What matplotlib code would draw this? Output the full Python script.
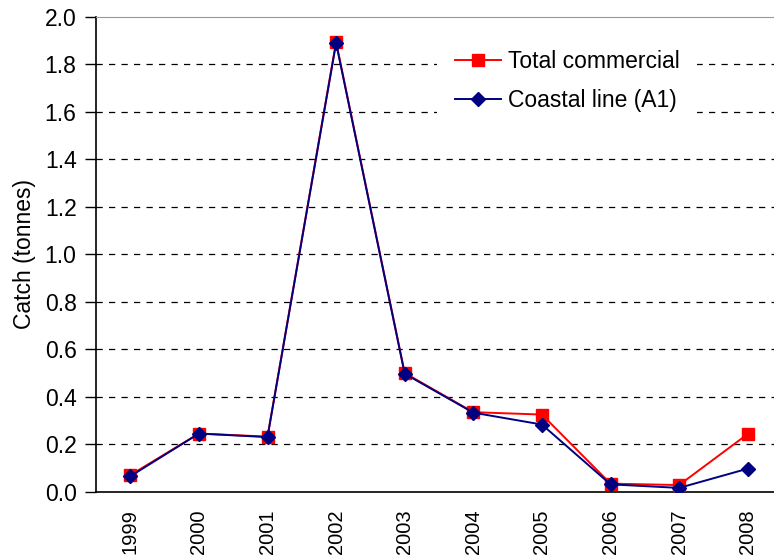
import matplotlib
matplotlib.use("Agg")
import matplotlib.pyplot as plt
import numpy as np

plt.rcParams['font.family'] = ['Liberation Sans', 'DejaVu Sans']

years = ["1999", "2000", "2001", "2002", "2003", "2004", "2005", "2006", "2007", "2008"]
total_commercial = [0.07, 0.245, 0.232, 1.895, 0.50, 0.335, 0.325, 0.034, 0.028, 0.243]
coastal_line = [0.065, 0.245, 0.230, 1.890, 0.497, 0.333, 0.283, 0.031, 0.016, 0.097]

fig = plt.figure(figsize=(7.74, 5.59), dpi=100)
W, H = 774, 559
left, right, top, bottom = 96, 782, 17, 491.7
ax = fig.add_axes([left / W, 1 - bottom / H, (right - left) / W, (bottom - top) / H])

x = np.arange(len(years))
ax.plot(x, total_commercial, color='#FF0000', lw=1.4, marker='s', ms=8,
        mec='#FF0000', mfc='#FF0000', label='Total commercial', zorder=3)
ax.plot(x, coastal_line, color='#000080', lw=1.4, marker='D', ms=7,
        mec='#000080', mfc='#000080', label='Coastal line (A1)', zorder=4)

ax.set_xlim(-0.5, len(years) - 0.5)
ax.set_ylim(0, 2.0)
yt = np.arange(0, 2.01, 0.2)
ax.set_yticks(yt)
ax.set_yticklabels([f"{v:.1f}" for v in yt], fontsize=16.5)
ax.set_xticks(x)
ax.set_xticklabels(years, rotation=90, fontsize=14.5)
ax.tick_params(axis='x', length=0, pad=12.5)
ax.tick_params(axis='y', length=8, width=1, direction='out', pad=6)

for v in yt[1:-1]:
    ax.axhline(v, color='black', lw=0.9, ls=(0, (5, 5)), zorder=1)

ax.spines['top'].set_color('#999999')
ax.spines['right'].set_visible(False)
ax.spines['left'].set_linewidth(1.2)
ax.spines['bottom'].set_linewidth(1.2)

ax.set_ylabel('Catch (tonnes)', fontsize=16.5, labelpad=6)

leg = ax.legend(loc='upper left', bbox_to_anchor=(0.497, 0.969), frameon=True,
                fontsize=16.5, handlelength=2.0, labelspacing=0.72,
                handletextpad=0.3, borderpad=0.78, borderaxespad=0)
leg.get_frame().set_edgecolor('none')
leg.get_frame().set_facecolor('white')
leg.get_frame().set_alpha(1)
leg.set_zorder(5)

fig.savefig('out.png', dpi=100)
